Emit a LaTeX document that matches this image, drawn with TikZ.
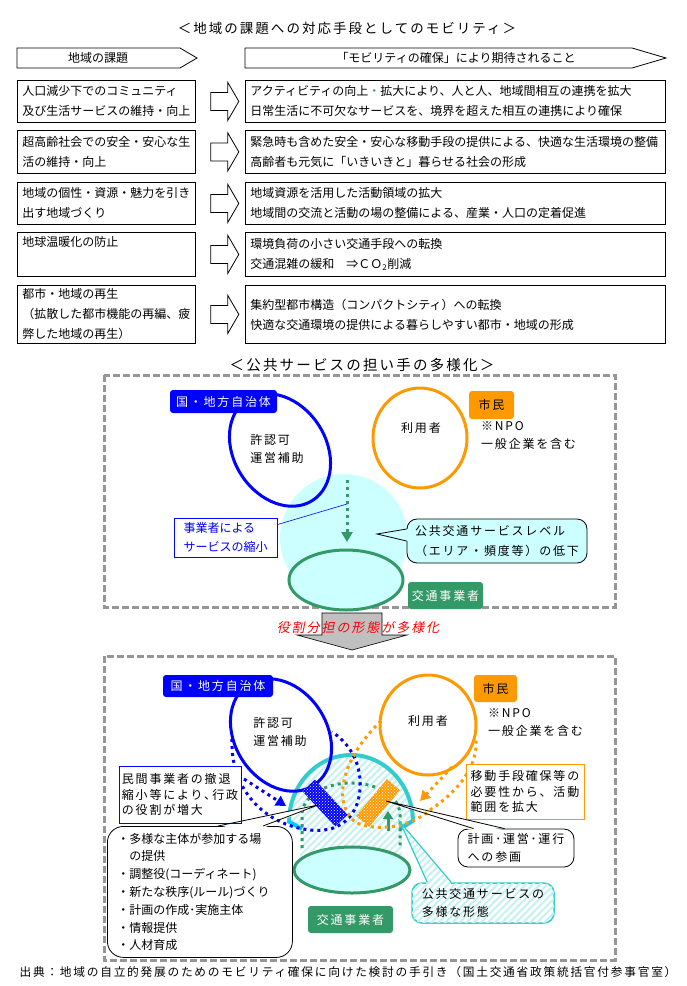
\documentclass[tikz,border=0pt]{standalone}
\usepackage{fontspec}
\setmainfont{Noto Sans CJK JP}
\newfontfamily\jpwide[LetterSpace=15]{Noto Sans CJK JP}
\newfontfamily\jpslant[FakeSlant=0.2,LetterSpace=15]{Noto Sans CJK JP}
\usetikzlibrary{arrows.meta, calc, shapes.geometric, patterns, patterns.meta}
\definecolor{blueact}{HTML}{0000FF}
\definecolor{orangeuser}{HTML}{FF9900}
\definecolor{greenop}{HTML}{339966}
\definecolor{cyanlight}{HTML}{CCFFFF}
\definecolor{cyanedge}{HTML}{33CCCC}
\definecolor{skyedge}{HTML}{00CCFF}
\definecolor{stripecyan}{HTML}{C4F2F2}
\definecolor{framegray}{HTML}{969696}
\definecolor{arrowgray}{HTML}{C0C0C0}

\begin{document}
\begin{tikzpicture}[x=1pt, y=-1pt,
    rowbox/.style={draw, line width=0.8pt, fill=white, anchor=north west, align=left,
      inner xsep=5pt, inner ysep=0pt, font=\fontsize{12}{20}\selectfont},
    openarrow/.style={draw, line width=0.8pt, fill=white},
    dashframe/.style={draw=framegray, line width=3pt, dash pattern=on 7pt off 3pt},
    tag/.style={rounded corners=3pt, inner sep=0pt, font=\jpwide\fontsize{12}{14}\selectfont},
    ktext/.style={inner sep=0pt, align=left, font=\jpwide\fontsize{12}{18}\selectfont},
    ring/.style={ellipse, line width=3pt, inner sep=0pt},
    dotline/.style={line width=3pt, dash pattern=on 3pt off 4pt},
    callbox/.style={draw, line width=0.8pt, rounded corners=10pt, align=left, inner sep=0pt,
      font=\jpwide\fontsize{12}{20}\selectfont},
    hatch/.style={fill=white, postaction={pattern={Lines[angle=45,distance=5pt,line width=2pt]},
      pattern color=stripecyan}},
    blob/.style={fill=#1, postaction={pattern=crosshatch dots, pattern color=white}, inner sep=0pt},
    headtri/.style={-{Triangle[length=10pt,width=11pt]}}
  ]
  \useasboundingbox (0,0) rectangle (687,986);
  \fill[white] (0,0) rectangle (687,986);

  % --- issues and expected effects
  \node[font=\jpwide\fontsize{13.5}{15}\selectfont] (title) at (347,28) {＜地域の課題への対応手段としてのモビリティ＞};
  \draw[line width=0.8pt] (17,48) -- (180,48) -- (197,58) -- (180,68) -- (17,68) -- cycle;
  \node[font=\fontsize{12}{14}\selectfont] (issue) at (98,58) {地域の課題};
  \draw[line width=0.8pt] (245,48) -- (632,48) -- (666,58) -- (632,68) -- (245,68) -- cycle;
  \node[font=\fontsize{12}{14}\selectfont] (expect) at (456,58) {「モビリティの確保」により期待されること};

  \node[rowbox, text width=168pt, minimum height=42pt] (l1) at (17,80) {人口減少下でのコミュニティ\\及び生活サービスの維持・向上};
  \node[rowbox, text width=168pt, minimum height=43pt] (l2) at (17,130) {超高齢社会での安全・安心な生\\活の維持・向上};
  \node[rowbox, text width=168pt, minimum height=42pt] (l3) at (17,182) {地域の個性・資源・魅力を引き\\出す地域づくり};
  \node[rowbox, text width=168pt, minimum height=44pt] (l4) at (17,232) {地球温暖化の防止\\\strut};
  \node[rowbox, text width=168pt, minimum height=58pt] (l5) at (17,285) {都市・地域の再生\\（拡散した都市機能の再編、疲\\弊した地域の再生）};

  \node[rowbox, text width=410pt, minimum height=42pt] (r1) at (245,80) {アクティビティの向上{\color{greenop}・}拡大により、人と人、地域間相互の連携を拡大\\日常生活に不可欠なサービスを、境界を超えた相互の連携により確保};
  \node[rowbox, text width=410pt, minimum height=43pt] (r2) at (245,130) {緊急時も含めた安全・安心な移動手段の提供による、快適な生活環境の整備\\高齢者も元気に「いきいきと」暮らせる社会の形成};
  \node[rowbox, text width=410pt, minimum height=42pt] (r3) at (245,182) {地域資源を活用した活動領域の拡大\\地域間の交流と活動の場の整備による、産業・人口の定着促進};
  \node[rowbox, text width=410pt, minimum height=44pt] (r4) at (245,232) {環境負荷の小さい交通手段への転換\\交通混雑の緩和　⇒ＣＯ\textsubscript{2}削減};
  \node[rowbox, text width=410pt, minimum height=58pt] (r5) at (245,285) {集約型都市構造（コンパクトシティ）への転換\\快適な交通環境の提供による暮らしやすい都市・地域の形成};

  \foreach \i in {1,...,5}
    \draw[openarrow] ($(l\i.east)+(15,-9)$) -- ++(17,0) -- ++(0,-10) -- ++(11,19)
      -- ++(-11,19) -- ++(0,-10) -- ++(-17,0) -- cycle;

  % --- before: upper frame
  \node[font=\jpwide\fontsize{14.5}{16}\selectfont] (title2) at (362,365) {＜公共サービスの担い手の多様化＞};
  \draw[dashframe] (104,375) rectangle (615,607);

  \node[circle, fill=cyanlight, minimum size=128pt, inner sep=0pt] (area) at (344,538) {};
  \node[ring, draw=blueact, minimum width=92pt, minimum height=120pt, rotate=33] (gov) at (280,450) {};
  \node[ring, draw=orangeuser, minimum width=94pt, minimum height=100pt] (usr) at (420,438) {};
  \node[ktext] (govt) at (277,449) {許認可\\運営補助};
  \node[ktext] (usrt) at (421,428) {利用者};

  \coordinate (dtop) at (347,480);
  \coordinate (dmid) at (347,504);
  \coordinate (dbot) at (347,542);
  \draw[greenop, dotline, headtri] (dtop) -- (dbot);
  \node[ring, draw=greenop, fill=cyanlight, minimum width=114pt, minimum height=60pt] (op) at (346,580) {};

  \node[tag, fill=blueact, text=white, minimum width=107pt, minimum height=23pt] (govtag) at (223.5,401.5) {国・地方自治体};
  \node[tag, fill=orangeuser, minimum width=45pt, minimum height=28pt] (citag) at (491.5,405) {市民};
  \node[tag, fill=greenop, text=white, minimum width=75pt, minimum height=27pt] (optag) at (445.5,595.5) {交通事業者};
  \node[ktext, anchor=north west] (npo) at (481,421) {※NPO\\一般企業を含む};

  \node[draw=blueact, line width=0.8pt, fill=white, text=blueact, align=left, inner sep=0pt,
    minimum width=103pt, minimum height=39pt, font=\fontsize{12}{19}\selectfont] (svc) at (225.5,537.5) {事業者による\\サービスの縮小};
  \draw[blueact, line width=0.6pt] (svc.14) -- (dmid);

  \node[callbox, fill=cyanlight, minimum width=180pt, minimum height=44pt] (lvl) at (497,541) {公共交通サービスレベル\\（エリア・頻度等）の低下};
  \coordinate (lvltip) at (377,534);
  \fill[cyanlight] ($(lvl.west)+(1.5,-12)$) -- (lvltip) -- ($(lvl.west)+(1.5,0)$) -- cycle;
  \draw[line width=0.8pt] ($(lvl.west)+(0,-12)$) -- (lvltip) -- ($(lvl.west)+(0,0)$);

  % --- change of roles
  \draw[fill=arrowgray, line width=0.6pt] (322,613) -- (382,613) -- (382,635) -- (407,635)
    -- (352,650) -- (297,635) -- (322,635) -- cycle;
  \node[text=red, font=\jpslant\fontsize{13}{15}\selectfont] (shift) at (358,628) {役割分担の形態が多様化};

  % --- after: lower frame
  \draw[dashframe] (104,656) rectangle (615,960);

  \path[hatch] (289,822) .. controls (289,785) and (317,755) .. (351,755)
    .. controls (385,755) and (413,785) .. (413,822) -- (402,828) -- (402,858)
    -- (300,858) -- (300,828) -- cycle;
  \draw[cyanedge, line width=4pt] (289,822) .. controls (289,785) and (317,755) .. (351,755)
    .. controls (385,755) and (413,785) .. (413,822);
  \draw[skyedge, line width=4pt] (288,821) -- (302,829);
  \draw[skyedge, line width=4pt] (400,829) -- (414,820);

  \node[ring, draw=blueact, minimum width=92pt, minimum height=120pt, rotate=33] (gov2) at (281,735) {};
  \node[ring, draw=orangeuser, minimum width=96pt, minimum height=100pt] (usr2) at (428,725) {};
  \node[ktext] (gov2t) at (280,732) {許認可\\運営補助};
  \node[ktext] (usr2t) at (428,721) {利用者};

  \draw[greenop, dotline] (302,848) -- (302,815) .. controls (302,797) and (324,783) .. (351,783)
    .. controls (378,783) and (400,797) .. (400,815) -- (400,848);
  \coordinate (upfoot) at (388,831);
  \coordinate (uphead) at (388,811);
  \draw[greenop, line width=3pt, -{Triangle[length=8pt,width=10pt]}] (upfoot) -- (uphead);
  \node[ring, draw=greenop, fill=cyanlight, minimum width=116pt, minimum height=46pt] (op2) at (352,870) {};

  % callouts
  \node[callbox, fill=white, anchor=north west, text width=165pt, inner xsep=10pt,
    minimum height=131pt, rounded corners=16pt, font=\fontsize{12}{17.8}\selectfont] (roles) at (107,826)
    {・多様な主体が参加する場\\\hspace{1em}の提供\\・調整役(コーディネート)\\・新たな秩序(ルール)づくり\\・計画の作成･実施主体\\・情報提供\\・人材育成};
  \node[callbox, fill=white, minimum width=116pt, minimum height=38pt,
    font=\jpwide\fontsize{12}{18}\selectfont] (plan) at (516,848) {計画･運営･運行\\への参画};
  \node[callbox, draw=cyanedge, line width=1.5pt, hatch, minimum width=142pt, minimum height=40pt,
    font=\jpwide\fontsize{12}{18}\selectfont] (form) at (483,903) {公共交通サービスの\\多様な形態};

  \coordinate (rtip) at (318,805);
  \coordinate (ptip) at (386,801);
  \coordinate (ftip) at (400,822);
  \fill[white] ($(roles.north west)+(111,2)$) -- (rtip) -- ($(roles.north west)+(156,2)$) -- cycle;
  \fill[white] ($(plan.north west)+(16,2)$) -- (ptip) -- ($(plan.north west)+(47,2)$) -- cycle;
  \path[hatch] ($(form.north west)+(16,2)$) -- (ftip) -- ($(form.north west)+(40,2)$) -- cycle;

  % dotted reach of each actor
  \draw[blueact, dotline] (232,739) .. controls (230,790) and (265,825) .. (310,830)
    .. controls (345,834) and (362,810) .. (360,780) .. controls (359,760) and (348,742) .. (332,732);
  \draw[orangeuser, dotline] (381,721) .. controls (345,755) and (330,800) .. (355,822)
    .. controls (375,832) and (410,828) .. (430,810) .. controls (460,790) and (478,765) .. (476,739);
  \coordinate (bstart) at (244,779);
  \coordinate (bend) at (286,806);
  \coordinate (ostart) at (452,767);
  \coordinate (oend) at (420,801);
  \draw[blueact, dotline, headtri] (bstart) -- (bend);
  \draw[orangeuser, dotline, headtri] (ostart) -- (oend);

  \node[blob=blueact, minimum width=48pt, minimum height=17pt, rotate=-47] (bblob) at (325,803) {};
  \node[blob=orangeuser, minimum width=48pt, minimum height=17pt, rotate=50] (oblob) at (378,803) {};

  \node[draw=blueact, line width=0.8pt, fill=white, align=left, inner sep=0pt,
    minimum width=122pt, minimum height=57pt, font=\jpwide\fontsize{12}{15.5}\selectfont] (retreat) at (180,794.5)
    {民間事業者の撤退\\縮小等により､行政\\の役割が増大};
  \node[draw=orangeuser, line width=0.8pt, fill=white, align=left, inner sep=0pt,
    minimum width=118pt, minimum height=55pt, font=\jpwide\fontsize{12}{15.5}\selectfont] (expand) at (525,791.5)
    {移動手段確保等の\\必要性から、活動\\範囲を拡大};

  \draw[line width=0.8pt] ($(roles.north west)+(111,0)$) -- (rtip) -- ($(roles.north west)+(156,0)$);
  \draw[line width=0.8pt] ($(plan.north west)+(16,0)$) -- (ptip) -- ($(plan.north west)+(47,0)$);
  \draw[cyanedge, line width=1.2pt] ($(form.north west)+(16,0)$) -- (ftip) -- ($(form.north west)+(40,0)$);

  \node[tag, fill=blueact, text=white, minimum width=110pt, minimum height=22pt] (govtag2) at (218,686) {国・地方自治体};
  \node[tag, fill=orangeuser, minimum width=43pt, minimum height=27pt] (citag2) at (495.5,688.5) {市民};
  \node[tag, fill=greenop, text=white, minimum width=85pt, minimum height=27pt] (optag2) at (350.5,919.5) {交通事業者};
  \node[ktext, anchor=north west] (npo2) at (488,708) {※NPO\\一般企業を含む};

  \node[font=\jpwide\fontsize{11.7}{14}\selectfont] (source) at (348,972)
    {出典：地域の自立的発展のためのモビリティ確保に向けた検討の手引き（国土交通省政策統括官付参事官室）};
\end{tikzpicture}
\end{document}
